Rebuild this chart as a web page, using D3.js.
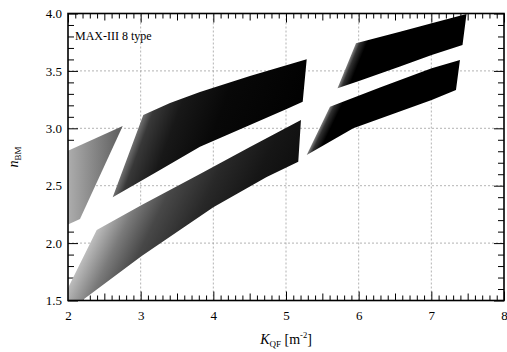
<!DOCTYPE html>
<html>
<head>
<meta charset="utf-8">
<script src="https://cdn.jsdelivr.net/npm/d3@7"></script>
<style>
  body { margin: 0; background: #fff; }
  svg { display: block; }
</style>
</head>
<body>
<svg id="chart" width="507" height="352"></svg>
<script>
// outlines of the regions as [K_QF, n_BM]
var regionA = [[2.0, 2.805], [2.753, 3.020], [2.165, 2.210], [2.0, 2.162]]
var bandB = [[2.615, 2.399], [3.036, 3.116], [3.404, 3.220], [3.816, 3.316], [4.504, 3.456], [5.285, 3.601],
             [5.230, 3.232], [5.009, 3.168], [4.504, 3.029], [3.816, 2.840], [3.266, 2.637]]
var bandC = [[2.0, 1.609], [2.395, 2.114], [3.014, 2.332], [3.816, 2.602], [4.504, 2.837], [5.206, 3.072],
             [5.169, 2.709], [4.734, 2.576], [4.0, 2.312], [3.014, 1.888], [2.193, 1.5], [2.0, 1.5]]
var bandD = [[5.709, 3.348], [5.963, 3.740], [6.569, 3.841], [7.005, 3.915], [7.484, 3.996],
             [7.429, 3.726], [7.005, 3.639], [6.569, 3.538], [6.004, 3.412]]
var bandE = [[5.285, 2.767], [5.605, 3.188], [6.293, 3.355], [7.005, 3.523], [7.394, 3.595],
             [7.339, 3.334], [7.005, 3.247], [5.926, 3.0]]

var xTicks = [2, 3, 4, 5, 6, 7, 8]
var yTicks = [1.5, 2.0, 2.5, 3.0, 3.5, 4.0]
var label = "MAX-III 8 type"

// shading: grey fades from the lit edge (two vertex indexes) into black
var shades = [
  { pts: regionA, edge: [3, 0], len: 56, stops: [[0, "#adadad"], [1, "#5a5a5a"]] },
  { pts: bandB, edge: [0, 1], len: 160, stops: [[0, "#707070"], [0.05, "#383838"], [0.2, "#181818"], [0.45, "#080808"], [1, "#000"]] },
  { pts: bandC, edge: [0, 1], len: 240, stops: [[0, "#bdbdbd"], [0.1, "#7a7a7a"], [0.2, "#484848"], [0.35, "#282828"], [0.5, "#161616"], [0.75, "#080808"], [1, "#040404"]] },
  { pts: bandD, edge: [0, 1], len: 10, stops: [[0, "#808080"], [0.35, "#303030"], [1, "#000"]] },
  { pts: bandE, edge: [0, 1], len: 10, stops: [[0, "#808080"], [0.35, "#303030"], [1, "#000"]] }
]

var FONT = "'Liberation Serif', 'Times New Roman', Times, serif"

var svg = d3.select("#chart"),
    width = +svg.attr("width"),
    height = +svg.attr("height")

var m = { l: 68, r: 3, t: 13.5, b: 51.5 }

var x = d3.scaleLinear().domain([2, 8]).range([m.l, width - m.r])
var y = d3.scaleLinear().domain([1.5, 4]).range([height - m.b, m.t])

var xMinor = d3.range(20, 81).map(function(d){ return d / 10 }).filter(function(d){ return Math.round(d * 10) % 5 != 0 })
var xMid = [2.5, 3.5, 4.5, 5.5, 6.5, 7.5]
var yMinor = d3.range(15, 41).map(function(d){ return d / 10 }).filter(function(d){ return Math.round(d * 10) % 5 != 0 })

var defs = svg.append("defs")
defs.append("clipPath").attr("id", "plot")
  .append("rect")
  .attr("x", m.l).attr("y", m.t)
  .attr("width", width - m.r - m.l).attr("height", height - m.b - m.t)

// grid
var grid = svg.append("g")
grid.selectAll(".gx")
  .data(xTicks.slice(1, -1))
  .enter().append("line")
  .attr("x1", function(d){ return x(d) }).attr("x2", function(d){ return x(d) })
  .attr("y1", y(1.5)).attr("y2", y(4))
grid.selectAll(".gy")
  .data(yTicks.slice(1, -1))
  .enter().append("line")
  .attr("y1", function(d){ return y(d) }).attr("y2", function(d){ return y(d) })
  .attr("x1", x(2)).attr("x2", x(8))
grid.selectAll("line")
  .style("stroke", "#a0a0a0")
  .style("stroke-width", 0.8)
  .style("stroke-dasharray", "2,2")

// ticks, all pointing inward
function ticks(axis, vals, size, tr){
  var a = svg.append("g")
    .attr("transform", tr)
    .call(axis.tickValues(vals).tickSize(-size).tickFormat(""))
  a.select(".domain").remove()
  a.selectAll("line").style("stroke", "#000").style("stroke-width", 1)
  return a
}
var bottom = "translate(0," + y(1.5) + ")",
    top_ = "translate(0," + y(4) + ")",
    left = "translate(" + x(2) + ",0)",
    right = "translate(" + x(8) + ",0)"

ticks(d3.axisBottom(x), xMinor, 5, bottom)
ticks(d3.axisBottom(x), xMid, 7, bottom)
ticks(d3.axisBottom(x), xTicks, 9, bottom)
ticks(d3.axisTop(x), xMinor, 5, top_)
ticks(d3.axisTop(x), xMid, 7, top_)
ticks(d3.axisTop(x), xTicks, 9, top_)
ticks(d3.axisLeft(y), yMinor, 6, left)
ticks(d3.axisLeft(y), yTicks, 10, left)
ticks(d3.axisRight(y), yMinor, 6, right)
ticks(d3.axisRight(y), yTicks, 10, right)

// tick labels
svg.append("g")
  .attr("class", "lab")
  .attr("transform", bottom)
  .call(d3.axisBottom(x).tickValues(xTicks).tickSize(0).tickPadding(10).tickFormat(d3.format("d")))
svg.append("g")
  .attr("class", "lab")
  .attr("transform", left)
  .call(d3.axisLeft(y).tickValues(yTicks).tickSize(0).tickPadding(6).tickFormat(d3.format(".1f")))
svg.selectAll(".domain").remove()
svg.selectAll(".lab")
  .attr("font-family", FONT)
  .attr("font-size", 13)
svg.selectAll(".lab text")
  .attr("font-family", FONT)
  .style("font-family", FONT)
  .style("font-size", "13px")
  .attr("fill", "#000")

// shaded regions
var line = d3.line()
  .x(function(d){ return x(d[0]) })
  .y(function(d){ return y(d[1]) })

var regions = svg.append("g").attr("clip-path", "url(#plot)")

shades.forEach(function(s, i){
  var px = s.pts.map(function(d){ return [x(d[0]), y(d[1])] })
  var p0 = px[s.edge[0]], p1 = px[s.edge[1]]
  var dx = p1[0] - p0[0], dy = p1[1] - p0[1], L = Math.hypot(dx, dy)
  var nx = dy / L, ny = -dx / L
  var c = d3.polygonCentroid(px)
  if ((c[0] - p0[0]) * nx + (c[1] - p0[1]) * ny < 0) { nx = -nx; ny = -ny }

  var grad = defs.append("linearGradient")
    .attr("id", "shade" + i)
    .attr("gradientUnits", "userSpaceOnUse")
    .attr("x1", p0[0]).attr("y1", p0[1])
    .attr("x2", p0[0] + nx * s.len).attr("y2", p0[1] + ny * s.len)
  s.stops.forEach(function(st){
    grad.append("stop").attr("offset", st[0]).attr("stop-color", st[1])
  })

  regions.append("path")
    .datum(s.pts)
    .attr("d", function(d){ return line(d) + "Z" })
    .style("fill", "url(#shade" + i + ")")
    .style("stroke", "none")
})

// frame
svg.append("rect")
  .attr("x", x(2)).attr("y", y(4))
  .attr("width", x(8) - x(2)).attr("height", y(1.5) - y(4))
  .style("fill", "none")
  .style("stroke", "#000")
  .style("stroke-width", 1.6)

// texts
svg.append("text")
  .attr("x", 75).attr("y", 39.5)
  .style("font-family", FONT)
  .style("font-size", "12px")
  .text(label)

var xt = svg.append("text")
  .attr("x", (x(2) + x(8)) / 2).attr("y", 344)
  .attr("text-anchor", "middle")
  .style("font-family", FONT)
  .style("font-size", "14px")
xt.append("tspan").style("font-style", "italic").text("K")
xt.append("tspan").attr("dy", 3).style("font-size", "9px").text("QF")
xt.append("tspan").attr("dy", -3).text(" [m")
xt.append("tspan").attr("dy", -6).style("font-size", "8.5px").text("-2")
xt.append("tspan").attr("dy", 6).text("]")

var yt = svg.append("text")
  .attr("transform", "translate(17.5," + (y(1.5) + y(4)) / 2 + ") rotate(-90)")
  .attr("text-anchor", "middle")
  .style("font-family", FONT)
  .style("font-size", "14px")
yt.append("tspan").style("font-style", "italic").text("n")
yt.append("tspan").attr("dy", 3).style("font-size", "9px").text("BM")
</script>
</body>
</html>
